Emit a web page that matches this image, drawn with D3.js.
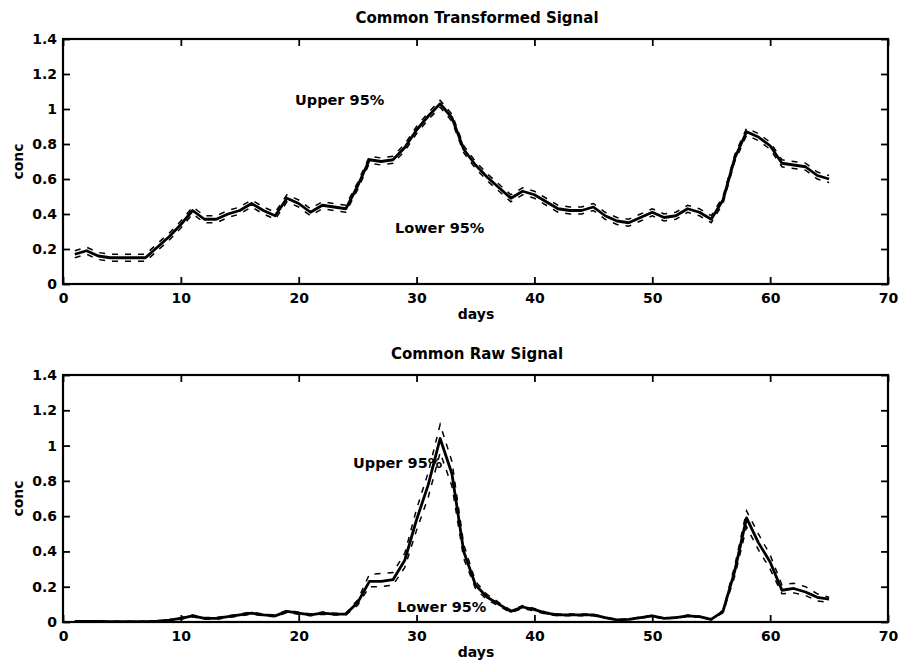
<!DOCTYPE html>
<html>
<head>
<meta charset="utf-8">
<script src="https://cdn.jsdelivr.net/npm/d3@7"></script>
<style>
  body { margin: 0; background: #fff; }
  svg { display: block; }
  text { font-family: "DejaVu Sans", Arial, sans-serif; font-weight: bold; fill: #000; }
</style>
</head>
<body>
<svg id="chart" width="901" height="662"></svg>
<script>
// days sampled
var days = [1,2,3,4,5,6,7,8,9,10,11,12,13,14,15,16,17,18,19,20,
	21,22,23,24,25,26,27,28,29,30,31,32,33,34,35,36,37,38,39,40,
	41,42,43,44,45,46,47,48,49,50,51,52,53,54,55,56,57,58,59,60,
	61,62,63,64,65];

var xTicks = [0, 10, 20, 30, 40, 50, 60, 70];
var yTicks = [0, 0.2, 0.4, 0.6, 0.8, 1, 1.2, 1.4];

// common transformed signal
var transSignal = [0.17,0.19,0.16,0.15,0.15,0.15,0.15,0.21,0.27,0.34,
	0.42,0.37,0.37,0.40,0.42,0.46,0.42,0.39,0.49,0.46,
	0.41,0.45,0.44,0.43,0.56,0.71,0.70,0.71,0.78,0.88,
	0.96,1.03,0.95,0.77,0.68,0.61,0.55,0.49,0.53,0.51,
	0.47,0.43,0.42,0.42,0.44,0.39,0.36,0.35,0.38,0.41,
	0.38,0.39,0.43,0.41,0.37,0.48,0.72,0.87,0.84,0.79,
	0.69,0.68,0.67,0.62,0.60];
var transUpper = [0.19,0.21,0.18,0.17,0.17,0.17,0.17,0.23,0.29,0.36,
	0.44,0.39,0.39,0.42,0.44,0.48,0.44,0.41,0.51,0.48,
	0.43,0.47,0.46,0.45,0.58,0.73,0.72,0.73,0.80,0.90,
	0.98,1.05,0.97,0.79,0.70,0.63,0.57,0.51,0.55,0.53,
	0.49,0.45,0.44,0.44,0.46,0.41,0.38,0.37,0.40,0.43,
	0.40,0.41,0.45,0.43,0.39,0.50,0.74,0.89,0.86,0.81,
	0.71,0.70,0.69,0.64,0.62];
var transLower = [0.15,0.17,0.14,0.13,0.13,0.13,0.13,0.19,0.25,0.32,
	0.40,0.35,0.35,0.38,0.40,0.44,0.40,0.37,0.47,0.44,
	0.39,0.43,0.42,0.41,0.54,0.69,0.68,0.69,0.76,0.86,
	0.94,1.01,0.93,0.75,0.66,0.59,0.53,0.47,0.51,0.49,
	0.45,0.41,0.40,0.40,0.42,0.37,0.34,0.33,0.36,0.39,
	0.36,0.37,0.41,0.39,0.35,0.46,0.70,0.85,0.82,0.77,
	0.67,0.66,0.65,0.60,0.58];

// common raw signal
var rawSignal = [0.003,0.004,0.003,0.002,0.002,0.002,0.002,0.005,0.01,0.02,
	0.035,0.02,0.02,0.03,0.04,0.05,0.04,0.035,0.06,0.05,
	0.04,0.05,0.045,0.045,0.11,0.23,0.23,0.24,0.35,0.58,
	0.78,1.04,0.84,0.40,0.21,0.14,0.10,0.06,0.085,0.07,
	0.05,0.04,0.04,0.04,0.04,0.025,0.012,0.015,0.025,0.035,
	0.02,0.025,0.035,0.03,0.015,0.06,0.29,0.59,0.45,0.34,
	0.18,0.19,0.17,0.14,0.13];
var rawUpper = [0.005,0.006,0.005,0.004,0.004,0.004,0.004,0.007,0.013,0.025,
	0.04,0.025,0.025,0.035,0.045,0.056,0.045,0.04,0.067,0.056,
	0.045,0.056,0.05,0.05,0.125,0.27,0.275,0.28,0.39,0.64,
	0.85,1.12,0.91,0.44,0.23,0.155,0.11,0.067,0.093,0.077,
	0.056,0.045,0.045,0.045,0.045,0.028,0.014,0.017,0.028,0.039,
	0.022,0.028,0.039,0.033,0.017,0.068,0.32,0.63,0.50,0.38,
	0.21,0.22,0.20,0.16,0.14];
var rawLower = [0.001,0.002,0.001,0.001,0.001,0.001,0.001,0.003,0.007,0.015,
	0.03,0.015,0.015,0.025,0.035,0.044,0.035,0.03,0.053,0.044,
	0.035,0.044,0.04,0.04,0.095,0.2,0.2,0.21,0.31,0.52,
	0.71,0.96,0.77,0.36,0.19,0.125,0.09,0.053,0.077,0.063,
	0.044,0.035,0.035,0.035,0.035,0.022,0.01,0.013,0.022,0.031,
	0.018,0.022,0.031,0.027,0.013,0.052,0.26,0.54,0.41,0.30,
	0.16,0.165,0.15,0.12,0.11];

var svg = d3.select("#chart");

function drawPanel(opts) {
	let x = d3.scaleLinear().domain([0, 70]).range([63, 888]);
	let y = d3.scaleLinear().domain([0, 1.4]).range([opts.bottom, opts.top]);

	let g = svg.append("g");

	// lines
	let line = d3.line()
		.x(function(d, i) {return x(days[i])})
		.y(function(d) {return y(d)});

	g.append("path").attr("d", line(opts.upper))
		.attr("fill", "none").attr("stroke", "#000")
		.attr("stroke-width", 1.5).attr("stroke-dasharray", "6,7");
	g.append("path").attr("d", line(opts.lower))
		.attr("fill", "none").attr("stroke", "#000")
		.attr("stroke-width", 1.5).attr("stroke-dasharray", "6,7");
	g.append("path").attr("d", line(opts.signal))
		.attr("fill", "none").attr("stroke", "#000")
		.attr("stroke-width", 2.8).attr("stroke-linejoin", "round");

	// axes, ticks pointing inward
	let fmt = function(d) {return d3.format("~g")(d)};

	let xb = g.append("g").attr("transform", "translate(0," + opts.bottom + ")")
		.call(d3.axisBottom(x).tickValues(xTicks).tickFormat(fmt).tickSizeInner(-7).tickSizeOuter(0));
	xb.selectAll("text").attr("y", 9).attr("font-size", 14);

	g.append("g").attr("transform", "translate(0," + opts.top + ")")
		.call(d3.axisTop(x).tickValues(xTicks).tickFormat("").tickSizeInner(-7).tickSizeOuter(0));

	let yl = g.append("g").attr("transform", "translate(63,0)")
		.call(d3.axisLeft(y).tickValues(yTicks).tickFormat(fmt).tickSizeInner(-7).tickSizeOuter(0));
	yl.selectAll("text").attr("x", -6).attr("font-size", 14);

	g.append("g").attr("transform", "translate(888,0)")
		.call(d3.axisRight(y).tickValues(yTicks).tickFormat("").tickSizeInner(-7).tickSizeOuter(0));

	g.selectAll(".domain").remove();
	g.selectAll(".tick line").attr("stroke", "#000").attr("stroke-width", 1.8);
	g.selectAll(".tick text").attr("font-family", "DejaVu Sans").attr("font-weight", "bold").attr("fill", "#000");

	g.append("rect")
		.attr("x", x(0)).attr("y", opts.top)
		.attr("width", x(70) - x(0)).attr("height", opts.bottom - opts.top)
		.attr("fill", "none").attr("stroke", "#000").attr("stroke-width", 2.2);

	// labels
	g.append("text").attr("x", 477).attr("y", opts.top - 16)
		.attr("text-anchor", "middle").attr("font-size", 15).text(opts.title);
	g.append("text").attr("x", 476).attr("y", opts.bottom + 35)
		.attr("text-anchor", "middle").attr("font-size", 14).text("days");
	g.append("text")
		.attr("transform", "translate(23," + ((opts.top + opts.bottom) / 2) + ") rotate(-90)")
		.attr("text-anchor", "middle").attr("font-size", 14).text("conc");

	g.append("text").attr("x", opts.upperLabel[0]).attr("y", opts.upperLabel[1])
		.attr("font-size", 14.5).text("Upper 95%");
	g.append("text").attr("x", opts.lowerLabel[0]).attr("y", opts.lowerLabel[1])
		.attr("font-size", 14.5).text("Lower 95%");
}

drawPanel({
	title: "Common Transformed Signal",
	top: 39, bottom: 284,
	signal: transSignal, upper: transUpper, lower: transLower,
	upperLabel: [295, 105], lowerLabel: [395, 233]
});

drawPanel({
	title: "Common Raw Signal",
	top: 375, bottom: 622,
	signal: rawSignal, upper: rawUpper, lower: rawLower,
	upperLabel: [353, 468], lowerLabel: [397, 612]
});
</script>
</body>
</html>
